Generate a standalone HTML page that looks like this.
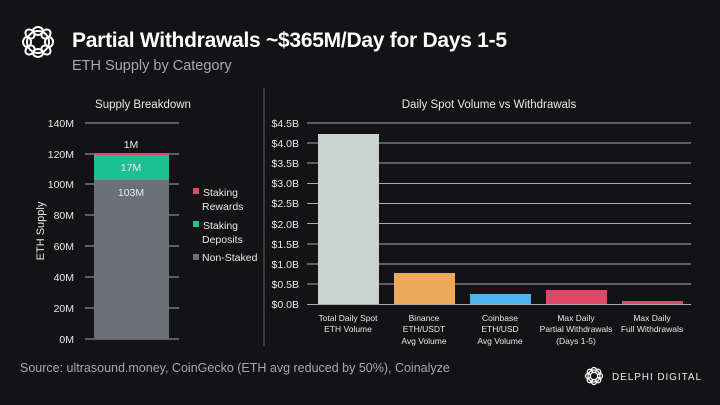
<!DOCTYPE html>
<html><head><style>
html,body{margin:0;padding:0;background:#131315;width:720px;height:405px;overflow:hidden}
svg{display:block;font-family:"Liberation Sans",sans-serif}
</style></head><body>
<svg width="720" height="405" viewBox="0 0 720 405">
<rect width="720" height="405" fill="#131315"/>
<g fill="none" stroke="#fff" stroke-width="2">
<circle cx="38" cy="42" r="11"/>
<g transform="translate(38,42)">
<ellipse cx="0" cy="-11" rx="5" ry="4"/><ellipse cx="0" cy="11" rx="5" ry="4"/>
<ellipse cx="-11" cy="0" rx="4" ry="5"/><ellipse cx="11" cy="0" rx="4" ry="5"/>
<ellipse cx="8" cy="-8" rx="4" ry="5" transform="rotate(45 8 -8)"/><ellipse cx="-8" cy="8" rx="4" ry="5" transform="rotate(45 -8 8)"/>
<ellipse cx="-8" cy="-8" rx="4" ry="5" transform="rotate(-45 -8 -8)"/><ellipse cx="8" cy="8" rx="4" ry="5" transform="rotate(-45 8 8)"/>
</g></g>
<text x="72" y="47" fill="#fff" font-size="21" font-weight="bold" textLength="435">Partial Withdrawals ~$365M/Day for Days 1-5</text>
<text x="72" y="70" fill="#a8a8ac" font-size="14.5">ETH Supply by Category</text>
<line x1="264" y1="88" x2="264" y2="346" stroke="#555" stroke-width="1.2"/>
<text x="143" y="108" fill="#e8e8e8" font-size="11.5" text-anchor="middle">Supply Breakdown</text>
<g stroke="#aaa" stroke-width="1">
<line x1="85" y1="123" x2="179" y2="123"/><line x1="85" y1="154" x2="179" y2="154"/>
<line x1="85" y1="184" x2="179" y2="184"/><line x1="85" y1="215" x2="179" y2="215"/>
<line x1="85" y1="246" x2="179" y2="246"/><line x1="85" y1="277" x2="179" y2="277"/>
<line x1="85" y1="308" x2="179" y2="308"/><line x1="85" y1="339" x2="179" y2="339"/>
</g>
<g fill="#e8e8e8" font-size="10.5" text-anchor="end">
<text x="74" y="127">140M</text><text x="74" y="158">120M</text><text x="74" y="188">100M</text>
<text x="74" y="219">80M</text><text x="74" y="250">60M</text><text x="74" y="281">40M</text>
<text x="74" y="312">20M</text><text x="74" y="343">0M</text>
</g>
<text transform="translate(44,231) rotate(-90)" fill="#e8e8e8" font-size="11" text-anchor="middle">ETH Supply</text>
<rect x="94" y="180" width="75" height="159" fill="#6b7178"/>
<rect x="94" y="155" width="75" height="25" fill="#1dbf95"/>
<rect x="94" y="153" width="75" height="2" fill="#e0486a"/>
<g fill="#e8e8e8" font-size="10.5" text-anchor="middle">
<text x="131" y="148">1M</text><text x="131" y="171">17M</text><text x="131" y="196">103M</text>
</g>
<g font-size="10.5" fill="#e8e8e8">
<rect x="193" y="188" width="6" height="6" fill="#e0486a"/><text x="203" y="196">Staking</text><text x="202" y="210">Rewards</text>
<rect x="193" y="221" width="6" height="6" fill="#1dbf95"/><text x="203" y="229">Staking</text><text x="202" y="243">Deposits</text>
<rect x="193" y="254" width="6" height="6" fill="#6b7178"/><text x="202" y="261">Non-Staked</text>
</g>
<text x="489" y="108" fill="#e8e8e8" font-size="11.5" text-anchor="middle">Daily Spot Volume vs Withdrawals</text>
<g stroke="#aaa" stroke-width="1">
<line x1="307" y1="123" x2="691" y2="123"/><line x1="307" y1="143" x2="691" y2="143"/>
<line x1="307" y1="163" x2="691" y2="163"/><line x1="307" y1="183.5" x2="691" y2="183.5"/>
<line x1="307" y1="203.5" x2="691" y2="203.5"/><line x1="307" y1="223.5" x2="691" y2="223.5"/>
<line x1="307" y1="244" x2="691" y2="244"/><line x1="307" y1="264" x2="691" y2="264"/>
<line x1="307" y1="284" x2="691" y2="284"/><line x1="307" y1="304.5" x2="691" y2="304.5"/>
</g>
<g fill="#e8e8e8" font-size="10.5" text-anchor="end">
<text x="299" y="127">$4.5B</text><text x="299" y="147">$4.0B</text><text x="299" y="167">$3.5B</text>
<text x="299" y="187">$3.0B</text><text x="299" y="207">$2.5B</text><text x="299" y="228">$2.0B</text>
<text x="299" y="248">$1.5B</text><text x="299" y="268">$1.0B</text><text x="299" y="288">$0.5B</text>
<text x="299" y="308">$0.0B</text>
</g>
<rect x="318" y="134" width="61" height="170" fill="#c8d3d0"/>
<rect x="394" y="273" width="61" height="31" fill="#eda85c"/>
<rect x="470" y="294" width="61" height="10" fill="#4cb3ef"/>
<rect x="546" y="290" width="61" height="14" fill="#e0486a"/>
<rect x="622" y="301" width="61" height="3" fill="#e0486a"/>
<g fill="#e8e8e8" font-size="8.5" text-anchor="middle">
<text x="348" y="321">Total Daily Spot</text><text x="348" y="332">ETH Volume</text>
<text x="424" y="321">Binance</text><text x="424" y="332">ETH/USDT</text><text x="424" y="344">Avg Volume</text>
<text x="500" y="321">Coinbase</text><text x="500" y="332">ETH/USD</text><text x="500" y="344">Avg Volume</text>
<text x="576" y="321">Max Daily</text><text x="576" y="332">Partial Withdrawals</text><text x="576" y="344">(Days 1-5)</text>
<text x="652" y="321">Max Daily</text><text x="652" y="332">Full Withdrawals</text>
</g>
<text x="20" y="372" fill="#a8a8ac" font-size="12.5">Source: ultrasound.money, CoinGecko (ETH avg reduced by 50%), Coinalyze</text>
<g fill="none" stroke="#fff" stroke-width="1.3" transform="translate(594,376)">
<circle r="6"/><circle cx="0" cy="-6" r="2.5"/><circle cx="0" cy="6" r="2.5"/><circle cx="-6" cy="0" r="2.5"/><circle cx="6" cy="0" r="2.5"/>
<circle cx="4.2" cy="-4.2" r="2.5"/><circle cx="-4.2" cy="4.2" r="2.5"/><circle cx="-4.2" cy="-4.2" r="2.5"/><circle cx="4.2" cy="4.2" r="2.5"/>
</g>
<text x="612" y="380" fill="#e8e8e8" font-size="10" textLength="89">DELPHI DIGITAL</text>
</svg>
</body></html>
